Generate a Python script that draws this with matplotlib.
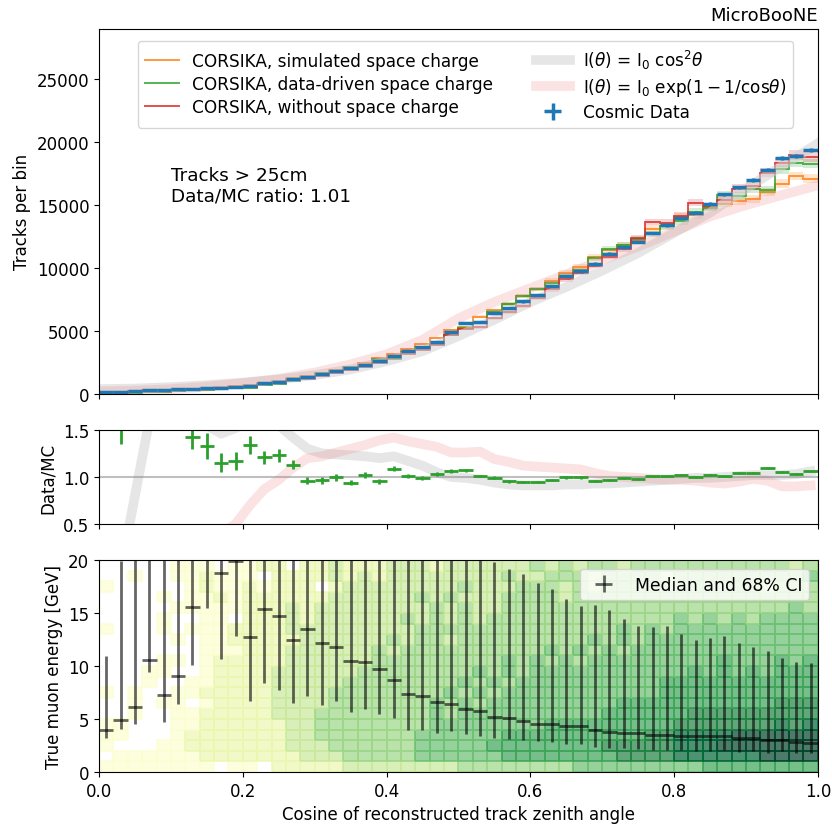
import numpy as np
import matplotlib.pyplot as plt

# binning in cos(zenith) and true energy
edges = np.linspace(0, 1, 51)
centers = 0.5 * (edges[1:] + edges[:-1])
energy_edges = np.arange(0, 21)

# top panel: tracks per bin
data_counts = [185, 190, 240, 280, 320, 370, 420, 460, 510, 570,
               640, 850, 980, 1190, 1330, 1590, 1800, 2050, 2320, 2650,
               3000, 3400, 3720, 4120, 4950, 5620, 5700, 6440, 6815, 7345,
               7875, 8565, 9360, 9785, 10340, 11140, 11640, 12065, 12780, 13390,
               13975, 14400, 15090, 15860, 16415, 17000, 17820, 18750, 18910, 19385]
mc_sim_sc = [190, 195, 245, 285, 330, 380, 430, 475, 530, 600,
             680, 880, 1030, 1250, 1420, 1680, 1900, 2180, 2480, 2850,
             3200, 3600, 3950, 4450, 5050, 5300, 6150, 6630, 7160, 7770,
             8350, 9010, 9630, 10080, 10870, 11400, 11850, 12150, 13130, 13340,
             14060, 14190, 14850, 15120, 15300, 15460, 16040, 16700, 17320, 17100]
mc_data_sc = [80, 110, 110, 140, 170, 205, 295, 345, 445, 490,
              480, 700, 800, 1050, 1385, 1650, 1810, 2180, 2275, 2775,
              2750, 3365, 3760, 4000, 4670, 5250, 5645, 6505, 7135, 7770,
              8335, 8830, 9405, 9835, 10770, 11545, 11815, 12310, 12715, 13325,
              13700, 14470, 14795, 15780, 15710, 16270, 16200, 17860, 18360, 18290]
mc_no_sc = [170, 175, 215, 250, 290, 330, 380, 420, 460, 520,
            560, 760, 880, 1080, 1200, 1450, 1650, 1900, 2150, 2480,
            2820, 3200, 3530, 3920, 4700, 5170, 5300, 6020, 6500, 6980,
            7610, 8300, 9100, 9600, 10200, 10900, 11500, 12410, 13660, 13600,
            14130, 15200, 14900, 15380, 16310, 16500, 17560, 18380, 18960, 18830]
mc_rel_err = 0.02

# analytic angular distributions
model_x = [0.0, 0.05, 0.1, 0.15, 0.2, 0.25, 0.3, 0.35, 0.4, 0.45, 0.5,
           0.55, 0.6, 0.65, 0.7, 0.75, 0.8, 0.85, 0.9, 0.95, 1.0]
model_cos2 = [380, 430, 540, 700, 900, 1150, 1500, 1950, 2600, 3400, 4600,
              5900, 7300, 8500, 9800, 11200, 12800, 14400, 16300, 18100, 19900]
model_exp = [200, 260, 380, 580, 850, 1200, 1700, 2350, 3150, 4300, 6000,
             7300, 8400, 9500, 10650, 11700, 12900, 14100, 15000, 15800, 16570]

# middle panel: ratios
ratio_data_mc = [2.4, 1.7, 2.2, 2.0, 1.9, 1.8, 1.43, 1.33, 1.15, 1.17,
                 1.34, 1.21, 1.23, 1.13, 0.96, 0.965, 0.995, 0.94, 1.02, 0.955,
                 1.09, 1.01, 0.99, 1.03, 1.06, 1.07, 1.01, 0.99, 0.955, 0.945,
                 0.945, 0.97, 0.995, 0.995, 0.96, 0.965, 0.985, 0.98, 1.005, 1.005,
                 1.02, 0.995, 1.02, 1.005, 1.045, 1.045, 1.1, 1.05, 1.03, 1.06]
ratio_err = [0.5, 0.35, 0.4, 0.35, 0.3, 0.25, 0.13, 0.14, 0.1, 0.1,
             0.1, 0.07, 0.07, 0.05, 0.04, 0.035, 0.035, 0.03, 0.03, 0.025,
             0.025, 0.02, 0.02, 0.02, 0.02, 0.015, 0.015, 0.015, 0.015, 0.012,
             0.012, 0.012, 0.012, 0.012, 0.01, 0.01, 0.01, 0.01, 0.01, 0.01,
             0.01, 0.01, 0.01, 0.01, 0.01, 0.01, 0.01, 0.01, 0.01, 0.01]
ratio_cos2 = [-0.3, 0.0, 0.8, 1.6, 2.0, 1.8, 1.6, 1.55, 1.46, 1.52,
              1.6, 1.62, 1.55, 1.42, 1.3, 1.25, 1.24, 1.23, 1.22, 1.2,
              1.22, 1.17, 1.12, 1.05, 1.0, 0.99, 0.97, 0.94, 0.92, 0.91,
              0.91, 0.91, 0.92, 0.92, 0.93, 0.93, 0.94, 0.95, 0.96, 0.97,
              0.98, 0.99, 0.99, 1.0, 1.01, 1.02, 1.02, 1.02, 1.03, 1.06]
ratio_exp = [0.0, 0.05, 0.1, 0.15, 0.2, 0.25, 0.3, 0.35, 0.4, 0.5,
             0.7, 0.87, 0.97, 1.1, 1.2, 1.22, 1.26, 1.3, 1.34, 1.39,
             1.42, 1.38, 1.35, 1.32, 1.26, 1.26, 1.27, 1.19, 1.16, 1.12,
             1.11, 1.1, 1.09, 1.08, 1.04, 1.01, 1.0, 0.99, 0.98, 0.97,
             0.97, 0.96, 0.94, 0.93, 0.95, 0.98, 0.96, 0.9, 0.9, 0.91]

# bottom panel: median true energy with 68% interval
median_energy = [4.0, 4.9, 6.1, 10.6, 7.3, 9.1, 15.6, 21.0, 18.8, 19.9,
                 12.7, 15.4, 14.7, 12.5, 13.5, 12.2, 11.8, 10.5, 10.4, 9.7,
                 8.7, 7.4, 7.2, 6.6, 6.4, 5.9, 5.8, 5.2, 5.1, 4.8,
                 4.5, 4.5, 4.3, 4.3, 4.0, 3.8, 3.7, 3.7, 3.5, 3.5,
                 3.4, 3.4, 3.4, 3.4, 3.2, 3.2, 3.0, 3.0, 2.8, 2.7]
ci_low = [3.2, 4.1, 4.5, 9.4, 4.7, 6.4, 10.1, 15.5, 10.7, 12.8,
          6.7, 8.4, 7.7, 6.5, 7.2, 6.3, 6.7, 5.7, 5.9, 5.5,
          5.1, 4.0, 4.0, 3.7, 3.9, 3.6, 3.4, 3.2, 3.1, 3.0,
          2.9, 2.8, 2.6, 2.6, 2.4, 2.3, 2.3, 2.2, 2.1, 2.1,
          2.1, 2.0, 2.0, 2.1, 1.9, 2.0, 1.8, 2.0, 1.8, 1.8]
ci_high = [10.9, 19.9, 30, 30, 30, 30, 30, 30, 30, 30,
           30, 30, 30, 30, 30, 30, 30, 30, 30, 30,
           30, 30, 30, 30, 30, 30, 30, 19.8, 19.2, 18.7,
           17.8, 17.3, 16.3, 15.7, 15.8, 15.3, 14.4, 13.8, 13.7, 13.8,
           13.0, 12.5, 12.6, 12.8, 12.2, 11.8, 11.4, 10.8, 10.4, 10.3]

# colour level of each (cos, energy) cell, top row = 19-20 GeV
density_rows = [
    "00000111011220223222333233333343434434444444444434",
    "00100112111022223232333333334334443444434444444445",
    "10000012112122202333333334333444343444444444443444",
    "00001011212222223333334343334444344444444444444444",
    "00000111112223233333333434334444444444444444444454",
    "00001001102223233333343434344444444444445454545555",
    "10001011122223333333334444444444444454545555555555",
    "00000101122222333333434434444444445454555555555555",
    "00000001112223333334344444444445454545555555555555",
    "00001101222223333334444444445454545555555556555656",
    "00011001222233333344444444545455555555555656565666",
    "00010011222233333444444445454555555555566666666666",
    "10100112222233334444444454545555555555566666666666",
    "00101101222233334444444545455555555566666666666777",
    "00100112222233344444444545555555555666666777777777",
    "11000112222223344444444555555556666666667777777878",
    "11000122222223344444445555556666666666778888999999",
    "10001122222223334444445555566666666777778889999999",
    "01111112222222333444445555556666666677778888889999",
    "11111111011022222333333334444444455555555566666666",
]

plt.rcParams["font.size"] = 12
fig = plt.figure(figsize=(8.32, 8.28), dpi=100)
ax1 = fig.add_axes([0.119, 0.523, 0.864, 0.441])
ax2 = fig.add_axes([0.119, 0.366, 0.864, 0.1135], sharex=ax1)
ax3 = fig.add_axes([0.119, 0.0664, 0.864, 0.256], sharex=ax1)

# ---- top panel
h_cos2, = ax1.plot(model_x, model_cos2, color="lightgray", lw=7, alpha=0.55,
                   label=r"I($\theta$) = I$_0$ cos$^2\theta$")
h_exp, = ax1.plot(model_x, model_exp, color="lightcoral", lw=7, alpha=0.22,
                  label=r"I($\theta$) = I$_0$ exp$(1-1/$cos$\theta)$")

mc_handles = []
for vals, col, lab in [(mc_sim_sc, "C1", "CORSIKA, simulated space charge"),
                       (mc_data_sc, "C2", "CORSIKA, data-driven space charge"),
                       (mc_no_sc, "C3", "CORSIKA, without space charge")]:
    vals = np.array(vals, dtype=float)
    ax1.stairs(vals * (1 + mc_rel_err), edges, baseline=vals * (1 - mc_rel_err),
               fill=True, color=col, alpha=0.2, lw=0)
    h = ax1.stairs(vals, edges, baseline=None, color=col, lw=1.4, alpha=0.8, label=lab)
    mc_handles.append(h)

data_counts = np.array(data_counts, dtype=float)
h_data = ax1.errorbar(centers, data_counts, xerr=0.01, yerr=np.sqrt(data_counts),
                      fmt="none", ecolor="C0", elinewidth=2.5, label="Cosmic Data")

ax1.set_xlim(0, 1)
ax1.set_ylim(0, 29000)
ax1.set_yticks([0, 5000, 10000, 15000, 20000, 25000])
ax1.set_ylabel("Tracks per bin")
ax1.set_title("MicroBooNE", loc="right", fontsize=13)
ax1.text(0.10, 0.625, "Tracks > 25cm\nData/MC ratio: 1.01", transform=ax1.transAxes,
         fontsize=13.2, va="top")
ax1.legend(handles=mc_handles + [h_cos2, h_exp, h_data], ncol=2, loc="upper center",
           fontsize=12.2, labelspacing=0.3, columnspacing=2.5,
           bbox_to_anchor=(0.51, 0.99))
plt.setp(ax1.get_xticklabels(), visible=False)

# ---- ratio panel
ax2.plot(centers, ratio_cos2, color="lightgray", lw=7, alpha=0.55)
ax2.plot(centers, ratio_exp, color="lightcoral", lw=7, alpha=0.22)
ax2.axhline(1.0, color="gray", alpha=0.5, lw=1.5)
ax2.errorbar(centers, ratio_data_mc, xerr=0.01, yerr=ratio_err, fmt="none",
             ecolor="C2", elinewidth=2)
ax2.set_ylim(0.5, 1.5)
ax2.set_yticks([0.5, 1.0, 1.5])
ax2.set_ylabel("Data/MC")
plt.setp(ax2.get_xticklabels(), visible=False)

# ---- energy panel
levels = np.array([[int(ch) for ch in row] for row in density_rows[::-1]])
levels = np.ma.masked_equal(levels, 0)
ax3.pcolormesh(edges, energy_edges, levels, cmap="YlGn", vmin=0.5, vmax=9,
               alpha=0.7, edgecolors="face", lw=0.1)
med = np.array(median_energy)
err = [med - np.array(ci_low), np.array(ci_high) - med]
ax3.errorbar(centers, med, xerr=0.01, yerr=err, fmt="none", ecolor="k",
             alpha=0.6, elinewidth=2, label="Median and 68% CI")
ax3.set_ylim(0, 20)
ax3.set_yticks([0, 5, 10, 15, 20])
ax3.set_ylabel("True muon energy [GeV]")
ax3.set_xlabel("Cosine of reconstructed track zenith angle")
ax3.set_xticks([0.0, 0.2, 0.4, 0.6, 0.8, 1.0])
ax3.legend(loc="upper right", fontsize=12.4)

fig.savefig("out.png", dpi=100)
